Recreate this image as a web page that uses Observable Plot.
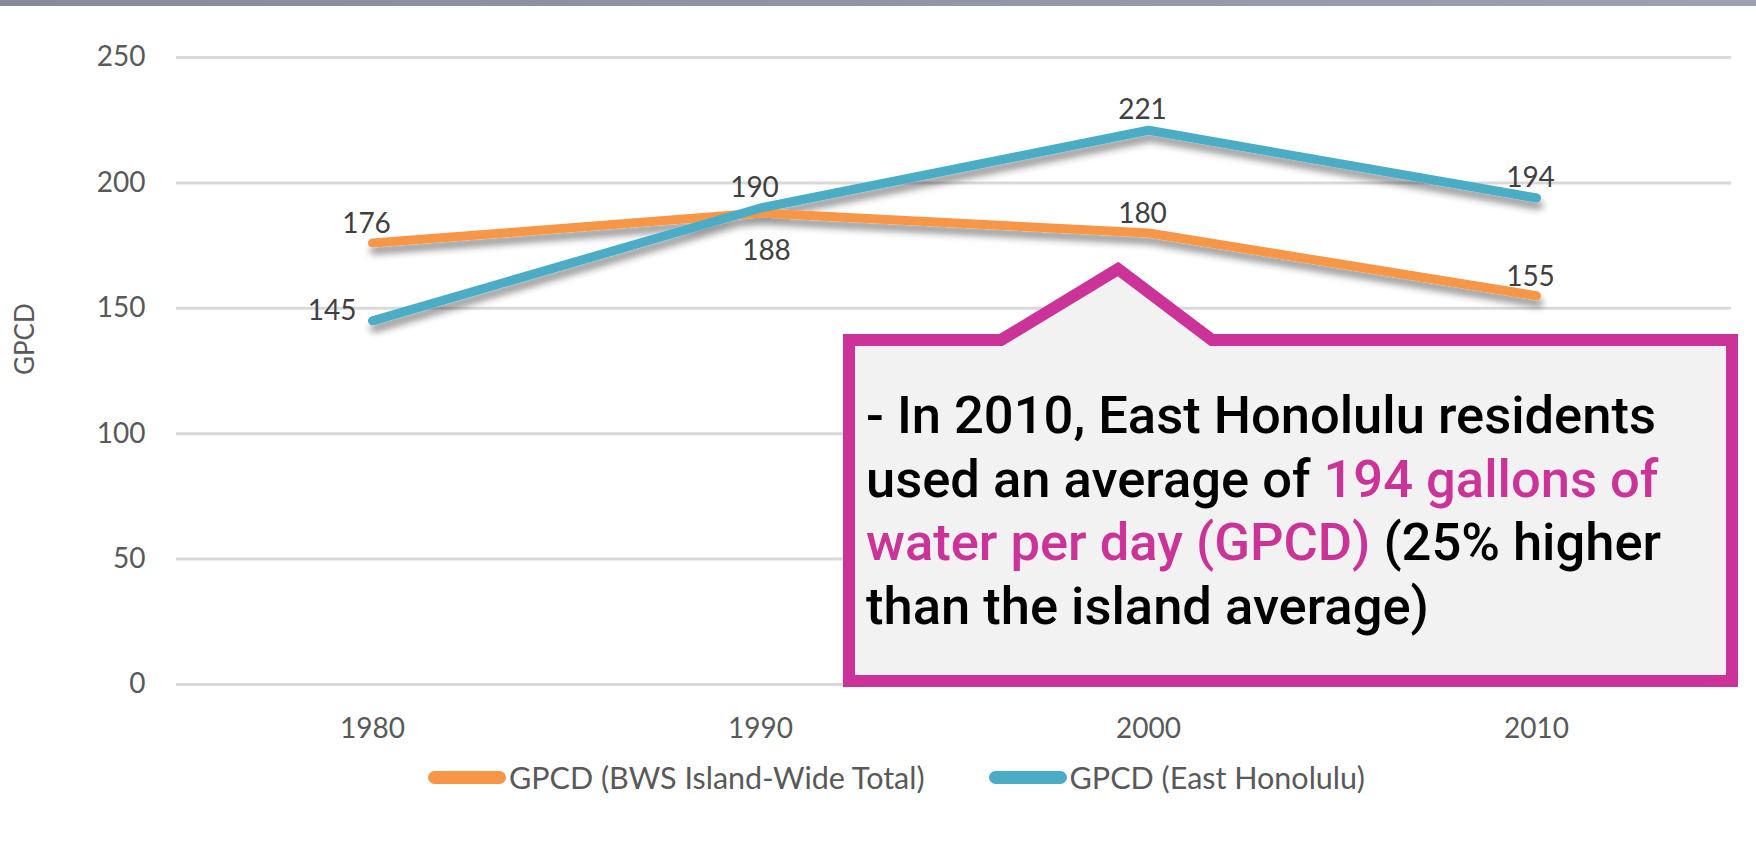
<!DOCTYPE html>
<html>
<head>
<meta charset="utf-8">
<script src="https://cdn.jsdelivr.net/npm/d3@7"></script>
<script src="https://cdn.jsdelivr.net/npm/@observablehq/plot@0.6"></script>
<style>
  html, body { margin: 0; padding: 0; background: #fff; }
  body { width: 1756px; height: 856px; position: relative; overflow: hidden; font-family: Lato, sans-serif; }
  #topbar { position: absolute; left: 0; top: 0; width: 1756px; height: 6px; background: linear-gradient(to right, #858b9b, #9ca1af); z-index: 3; }
  #chart { position: absolute; left: 0; top: 0; }
  #legend { position: absolute; left: 428px; top: 759px; height: 36px; display: flex; align-items: center; font-family: Lato, sans-serif; font-size: 30.5px; color: #595959; white-space: nowrap; }
  #legend .item { display: flex; align-items: center; }
  #legend .sw { width: 78px; height: 13px; border-radius: 7px; margin-right: 3px; }
  #callout-shape { position: absolute; left: 0; top: 0; z-index: 2; }
  #callout-text { position: absolute; left: 866px; top: 384px; z-index: 2; font-family: Roboto, sans-serif; font-weight: 500; font-size: 52.5px; line-height: 63.5px; color: #000; white-space: nowrap; }
  #callout-text .hl { color: #cc3399; }
</style>
</head>
<body>
<div id="topbar"></div>
<div id="chart"></div>
<div id="legend"></div>
<svg id="callout-shape" width="1756" height="856">
  <path d="M849,681 L849,340 L1001,340 L1118,269 L1212,340 L1732,340 L1732,681 Z" fill="#f2f2f2" stroke="#cc3399" stroke-width="12" stroke-linejoin="miter"></path>
</svg>
<div id="callout-text">- In 2010, East Honolulu residents<br>used an average of <span class="hl">194 gallons of</span><br><span class="hl">water per day (GPCD)</span> (25% higher<br>than the island average)</div>
<script>
const years = [1980, 1990, 2000, 2010];
const islandWide = [176, 188, 180, 155];
const eastHonolulu = [145, 190, 221, 194];
const seriesNames = ["GPCD (BWS Island-Wide Total)", "GPCD (East Honolulu)"];
const seriesColors = ["#f79646", "#4bacc6"];
const yTicks = [0, 50, 100, 150, 200, 250];
const yLabel = "GPCD";

const rows = [];
years.forEach((yr, i) => rows.push({year: yr, value: islandWide[i], series: seriesNames[0]}));
years.forEach((yr, i) => rows.push({year: yr, value: eastHonolulu[i], series: seriesNames[1]}));

const orange = rows.filter(d => d.series === seriesNames[0]);
const blue = rows.filter(d => d.series === seriesNames[1]);
// where the two series nearly meet, the lower one's label goes below
const isCrossing = d => {
  const i = years.indexOf(d.year);
  return Math.abs(islandWide[i] - eastHonolulu[i]) < 10;
};

const plot = Plot.plot({
  width: 1756,
  height: 750,
  marginLeft: 176,
  marginRight: 25,
  marginTop: 57,
  marginBottom: 66,
  style: {fontFamily: "Lato, sans-serif", fontSize: "28px", color: "#595959", background: "transparent"},
  x: {type: "point", domain: years, padding: 0.5},
  y: {domain: [0, 250]},
  color: {domain: seriesNames, range: seriesColors},
  marks: [
    Plot.gridY(yTicks, {stroke: "#d9d9d9", strokeOpacity: 1, strokeWidth: 3}),
    Plot.axisY(yTicks, {tickSize: 0, tickPadding: 31, label: null, fill: "#595959"}),
    Plot.axisX(years, {tickSize: 0, tickPadding: 34, label: null, tickFormat: d => String(d), fill: "#595959"}),
    Plot.text([yLabel], {frameAnchor: "left", rotate: -90, dx: -151, dy: 4, fill: "#595959", fontSize: 26}),
    Plot.line(rows, {x: "year", y: "value", z: "series", stroke: "series", strokeWidth: 9, strokeLinecap: "round", strokeLinejoin: "round"}),
    // orange labels
    Plot.text(orange.filter(d => !isCrossing(d)), {x: "year", y: "value", text: d => String(d.value), dy: -19, dx: -6, fill: "#404040"}),
    Plot.text(orange.filter(d => isCrossing(d)), {x: "year", y: "value", text: d => String(d.value), dy: 38, dx: 6, fill: "#404040"}),
    // blue labels
    Plot.text(blue.filter(d => d.year !== years[0]), {x: "year", y: "value", text: d => String(d.value), dy: -20, dx: -6, fill: "#404040"}),
    Plot.text(blue.filter(d => d.year === years[0]), {x: "year", y: "value", text: d => String(d.value), dy: -10, dx: -16, textAnchor: "end", fill: "#404040"})
  ]
});

// drop shadow under the lines
const svg = d3.select(plot);
const defs = svg.insert("defs", ":first-child");
const f = defs.append("filter").attr("id", "lineShadow").attr("x", "-10%").attr("y", "-30%").attr("width", "120%").attr("height", "160%");
f.append("feDropShadow").attr("dx", 2).attr("dy", 7).attr("stdDeviation", 3.5).attr("flood-color", "#000").attr("flood-opacity", 0.4);
svg.selectAll('g[aria-label="line"]').attr("filter", "url(#lineShadow)");

document.getElementById("chart").appendChild(plot);

// legend
const legend = d3.select("#legend");
seriesNames.forEach((name, i) => {
  const item = legend.append("div").attr("class", "item").style("margin-right", i === 0 ? "64px" : "0px");
  item.append("div").attr("class", "sw").style("background", seriesColors[i]);
  item.append("span").text(name);
});
</script>
</body>
</html>
